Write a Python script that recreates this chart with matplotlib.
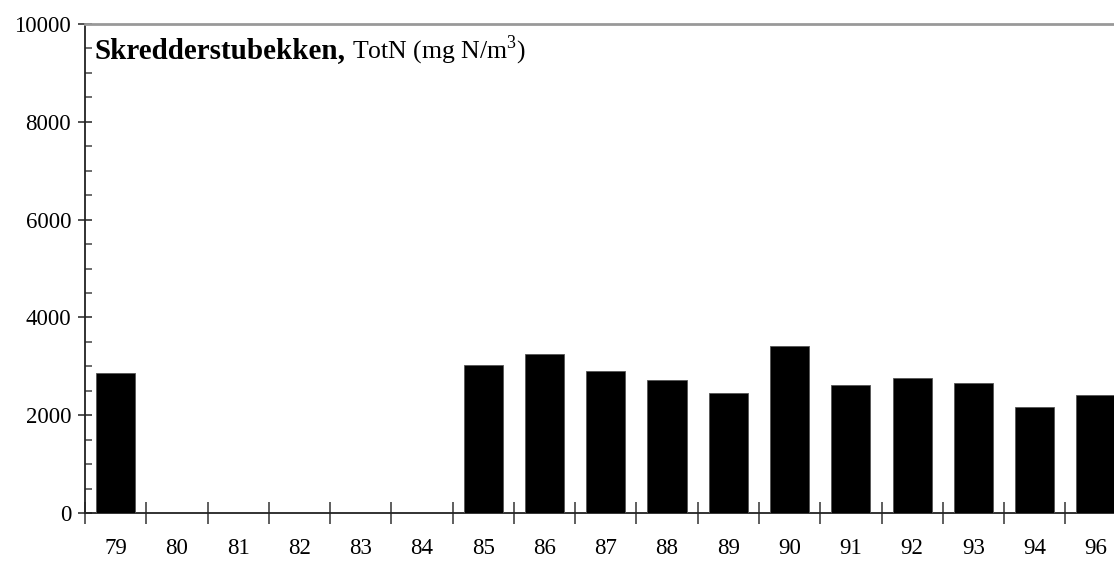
import matplotlib
matplotlib.use('Agg')
import matplotlib.pyplot as plt
import numpy as np
from matplotlib.ticker import MultipleLocator, FixedLocator

plt.rcParams['font.family'] = ['Liberation Serif', 'DejaVu Serif']
plt.rcParams['mathtext.fontset'] = 'custom'
plt.rcParams['mathtext.rm'] = 'Liberation Serif'

# data
years = ['79', '80', '81', '82', '83', '84', '85', '86', '87', '88',
         '89', '90', '91', '92', '93', '94', '96']
totn = [2865, 0, 0, 0, 0, 0, 3025, 3250, 2910, 2715,
        2460, 3420, 2610, 2765, 2650, 2160, 2405]
station = 'Skredderstubekken,'
param = 'TotN (mg N/m$^3$)'

W, H = 1114, 562
fig = plt.figure(figsize=(W / 100, H / 100), dpi=100)
# axes box in pixels: left 85, right 1126.6 (runs past the figure edge), top 24, zero line 513
x0, x1, ytop, ybot = 85, 1126.6, 24, 513
ax = fig.add_axes([x0 / W, (H - ybot) / H, (x1 - x0) / W, (ybot - ytop) / H])

x = np.arange(len(years))
ax.bar(x, totn, width=0.64, color='black', edgecolor='#555555', linewidth=0.6, zorder=3)

ax.set_xlim(-0.5, len(years) - 0.5)
ax.set_ylim(0, 10000)

ax.spines['right'].set_visible(False)
ax.spines['top'].set_color('#999999')
ax.spines['top'].set_linewidth(2)
ax.spines['left'].set_linewidth(1.3)
ax.spines['bottom'].set_linewidth(1.3)
ax.spines['left'].set_color('#222222')
ax.spines['bottom'].set_color('#222222')

ax.yaxis.set_major_locator(MultipleLocator(2000))
ax.yaxis.set_minor_locator(MultipleLocator(500))
ax.tick_params(axis='y', which='major', direction='inout', length=10, width=1.1,
               labelsize=16.5, pad=5, colors='#222222', labelcolor='black')
ax.tick_params(axis='y', which='minor', direction='in', length=5, width=1.1,
               colors='#444444')

# labels at bar centres, tick marks at the category borders
ax.set_xticks(x)
ax.set_xticklabels(years)
ax.xaxis.set_minor_locator(FixedLocator(np.arange(-0.5, len(years), 1.0)))
ax.tick_params(axis='x', which='major', length=0, labelsize=16.5, pad=18)
ax.tick_params(axis='x', which='minor', direction='inout', length=16, width=1.1,
               colors='#333333')

fig.text(95 / W, (H - 58) / H, station, fontsize=21, fontweight='bold',
         va='baseline', ha='left')
fig.text(352 / W, (H - 58) / H, param, fontsize=18.5, va='baseline', ha='left')

fig.savefig('out.png', dpi=100)
